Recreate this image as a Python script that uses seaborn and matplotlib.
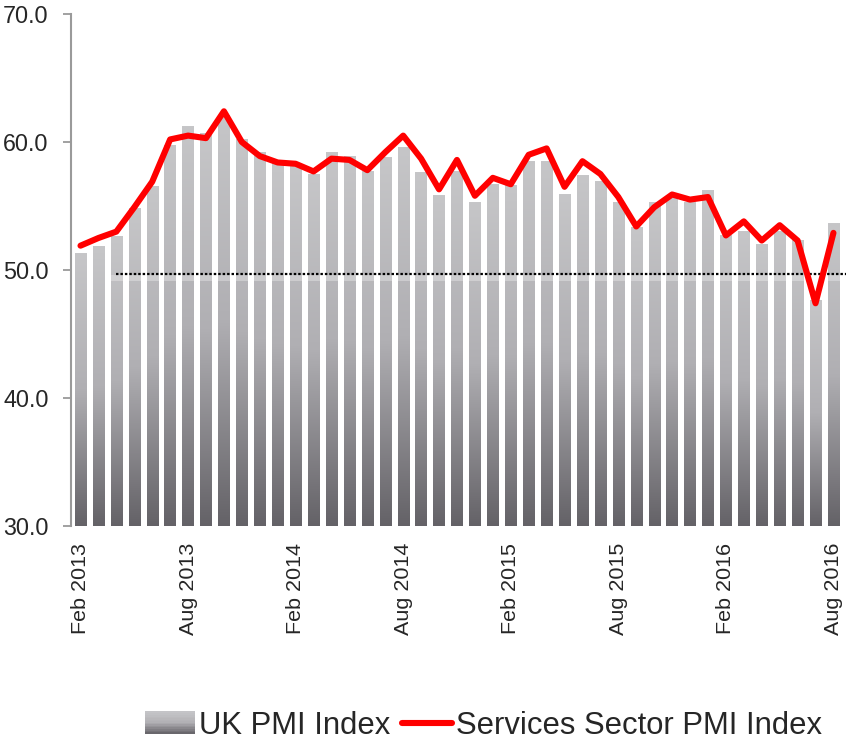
import numpy as np
import pandas as pd
import seaborn as sns
import matplotlib.pyplot as plt
from matplotlib import font_manager
from matplotlib.colors import LinearSegmentedColormap
from matplotlib.patches import Patch, Rectangle
from matplotlib.lines import Line2D
from matplotlib.legend_handler import HandlerBase

# monthly readings, Feb 2013 .. Aug 2016
months = [d.strftime("%b %Y") for d in pd.date_range("2013-02-01", "2016-08-01", freq="MS")]
uk_pmi = [51.3, 51.8, 52.6, 54.8, 56.5, 59.7, 61.2, 60.7, 62.1, 60.2, 59.2, 58.3,
          58.1, 57.5, 59.2, 58.9, 57.7, 58.8, 59.6, 57.6, 55.8, 57.7, 55.3, 56.7,
          56.6, 58.5, 58.5, 55.9, 57.4, 56.9, 55.3, 53.3, 55.3, 55.6, 55.3, 56.2,
          52.7, 53.0, 52.0, 53.0, 52.3, 47.6, 53.6]
services_pmi = [51.9, 52.5, 53.0, 54.9, 56.9, 60.2, 60.5, 60.3, 62.4, 60.0, 58.9, 58.4,
                58.3, 57.7, 58.7, 58.6, 57.8, 59.2, 60.5, 58.7, 56.3, 58.6, 55.8, 57.2,
                56.7, 59.0, 59.5, 56.5, 58.5, 57.5, 55.7, 53.4, 54.9, 55.9, 55.5, 55.7,
                52.7, 53.8, 52.3, 53.5, 52.3, 47.4, 52.9]
reference_level = 49.72
y_ticks = [30, 40, 50, 60, 70]

df = pd.DataFrame({"month": months, "uk": uk_pmi, "services": services_pmi})

sns.set_theme(style="white")
installed = {f.name for f in font_manager.fontManager.ttflist}
if "Liberation Sans Narrow" in installed:
    FONT, SCALE = "Liberation Sans Narrow", 1.0
else:
    FONT, SCALE = "Liberation Sans", 0.84
plt.rcParams["font.family"] = [FONT, "DejaVu Sans"]

bar_cmap = LinearSegmentedColormap.from_list(
    "bar", [(0.0, "#c6c6c8"), (0.5, "#b0afb3"), (1.0, "#646267")])


class GradientHandler(HandlerBase):
    def create_artists(self, legend, orig_handle, xdescent, ydescent, width, height, fontsize, trans):
        n = 14
        arts = []
        for i in range(n):
            c = bar_cmap(1 - (i + 0.5) / n)
            arts.append(Rectangle((-xdescent, -ydescent + height * i / n), width, height / n + 0.3,
                                  facecolor=c, edgecolor="none", transform=trans))
        return arts


fig = plt.figure(figsize=(8.46, 7.45), dpi=100)
ax = fig.add_axes([71 / 846, (745 - 526) / 745, 775 / 846, 512 / 745])

sns.barplot(data=df, x="month", y="uk", color="#b0afb3", width=0.63, ax=ax, zorder=1)

# vertical gradient on each bar
grad = np.linspace(0, 1, 256).reshape(-1, 1)
for p in ax.patches:
    x0, w, top = p.get_x(), p.get_width(), p.get_height()
    ax.imshow(grad, cmap=bar_cmap, aspect="auto", origin="upper",
              extent=(x0, x0 + w, 30, top), zorder=1.5)
    p.set_visible(False)

pos = np.arange(len(months))
ax.hlines(reference_level, pos[2], 42.7, colors="black", linewidth=1.6,
          linestyles=(0, (1.1, 0.9)), zorder=3)
ax.fill_between([pos[2] - 0.3, 42.7], reference_level - 0.6, reference_level - 0.12,
                color="white", alpha=0.3, linewidth=0, zorder=2.5)

sns.lineplot(x=pos, y=df["services"], color="#ff0000", linewidth=4.4, ax=ax, zorder=4,
             solid_joinstyle="round", solid_capstyle="round")

ax.set_xlim(-0.53, 42.7)
ax.set_ylim(30, 70)
ax.set_yticks(y_ticks)
ax.set_yticklabels([f"{v:.1f}" for v in y_ticks], fontsize=20 * SCALE)
ax.set_xticks(pos[::6])
ax.set_xticklabels(months[::6], rotation=90, fontsize=18.4 * SCALE)
ax.tick_params(axis="x", length=0, pad=12)
ax.tick_params(axis="y", left=True, length=6, width=1.3, color="#9a9a9a", pad=10)
ax.set_xlabel("")
ax.set_ylabel("")
for side in ["top", "right", "bottom"]:
    ax.spines[side].set_visible(False)
ax.spines["left"].set_color("#9a9a9a")
ax.spines["left"].set_linewidth(1.5)

handles = [Patch(facecolor="#b0afb3"), Line2D([], [], color="#ff0000", linewidth=4.4)]
fig.legend(handles, ["UK PMI Index", "Services Sector PMI Index"],
           handler_map={Patch: GradientHandler()},
           loc="center left", bbox_to_anchor=(145 / 846, 0.026), ncol=2, frameon=False,
           fontsize=26.6 * SCALE, handlelength=1.35 / SCALE, handletextpad=0.14,
           columnspacing=0.38, borderpad=0, borderaxespad=0)

fig.savefig("out.png", dpi=100)
